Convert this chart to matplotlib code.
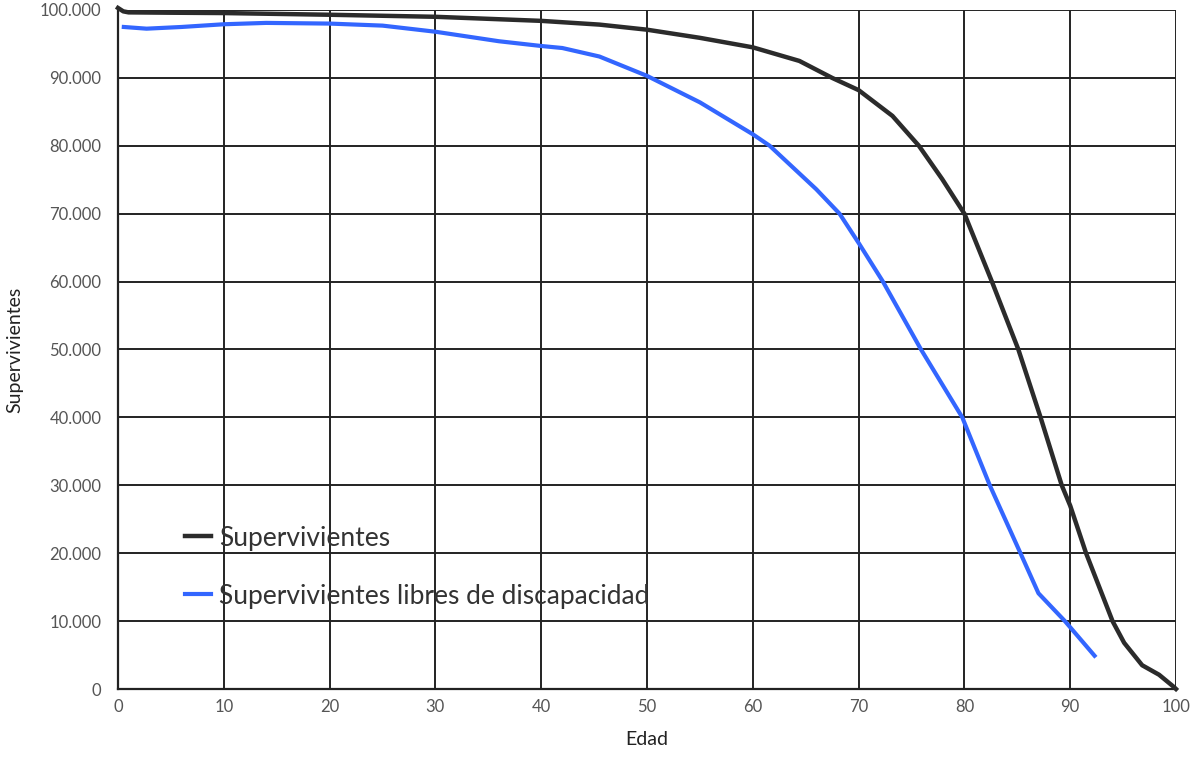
import matplotlib.pyplot as plt
from matplotlib.ticker import FuncFormatter

# datos
edad_total = [0, 0.5, 1, 5, 10, 20, 30, 40, 45.5, 50, 55, 60, 64.4, 67.5, 70, 73.2, 75.7,
              77.9, 80, 82.6, 85.1, 87.2, 89.2, 90, 91.5, 94, 95.1, 96.8, 98.4, 99.8, 100]
supervivientes = [100300, 99800, 99650, 99600, 99550, 99300, 99000, 98400, 97850, 97100,
                  95900, 94500, 92500, 90000, 88200, 84400, 80000, 75100, 70000, 60000,
                  50000, 40000, 30000, 27000, 20000, 10000, 6800, 3500, 2100, 300, 0]

edad_libres = [0.55, 2.7, 6, 10, 14, 20, 25, 30, 36, 40, 42, 45.5, 50, 55, 60, 61.6, 66,
               68.2, 70, 72.3, 75.9, 79.8, 82.4, 85.3, 87, 89.5, 92.3]
libres_discapacidad = [97500, 97250, 97500, 97900, 98100, 98000, 97700, 96800, 95400,
                       94700, 94400, 93150, 90300, 86400, 81700, 80000, 73600, 70000,
                       65700, 60000, 50000, 40000, 30000, 20000, 14100, 10000, 4900]

plt.rcParams['font.family'] = ['Lato', 'DejaVu Sans']

fig = plt.figure(figsize=(11.95, 7.68), dpi=100)
ax = fig.add_axes([118 / 1195, 79 / 768, 1058 / 1195, 679 / 768])

ax.plot(edad_total, supervivientes, color='#2b2b2b', lw=3.2, label='Supervivientes',
        clip_on=False, zorder=3, solid_joinstyle='round')
ax.plot(edad_libres, libres_discapacidad, color='#3366ff', lw=3.0,
        label='Supervivientes libres de discapacidad', clip_on=False, zorder=3,
        solid_joinstyle='round')

ax.set_xlim(0, 100)
ax.set_ylim(0, 100000)
ax.set_xticks(range(0, 101, 10))
ax.set_yticks(range(0, 100001, 10000))
ax.yaxis.set_major_formatter(FuncFormatter(lambda v, p: f'{int(v):,}'.replace(',', '.')))
ax.tick_params(length=0, labelsize=12, labelcolor='#555555')
ax.tick_params(axis='y', pad=12)
ax.tick_params(axis='x', pad=7)

ax.grid(True, color='#222222', lw=1.4)
ax.set_axisbelow(True)
for s in ['top', 'right']:
    ax.spines[s].set_visible(False)
for s in ['left', 'bottom']:
    ax.spines[s].set_color('#222222')
    ax.spines[s].set_linewidth(1.6)

ax.set_xlabel('Edad', fontsize=14, color='#222222', labelpad=12)
ax.set_ylabel('Supervivientes', fontsize=14, color='#222222', labelpad=12)

leg = ax.legend(loc='lower left', bbox_to_anchor=(0.053, 0.103), borderaxespad=0,
                frameon=False, fontsize=19, handlelength=1.0, handletextpad=0.3,
                labelspacing=1.25, labelcolor='#333333')

fig.savefig('out.png', dpi=100)
